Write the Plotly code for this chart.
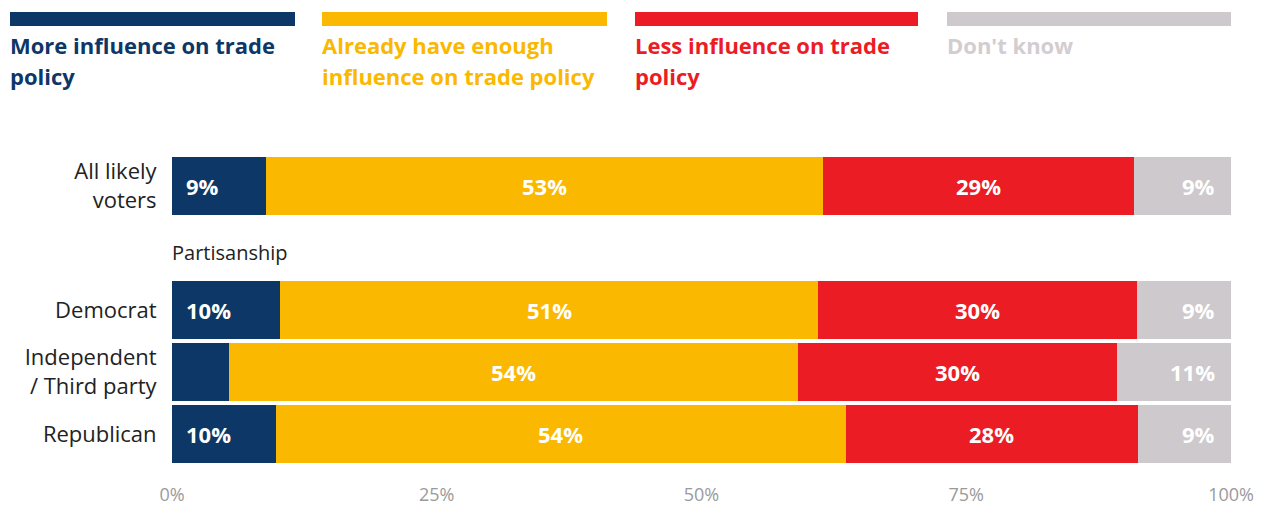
import plotly.graph_objects as go

# Survey rows (top to bottom) and their plotted row positions
groups = ["All likely<br>voters", "Democrat", "Independent<br>/ Third party", "Republican"]
rows = [0, 2, 3, 4]

# Shares (percent) for each response
more_influence = [8.9, 10.2, 5.4, 9.8]
enough_influence = [52.6, 50.8, 53.7, 53.8]
less_influence = [29.3, 30.1, 30.1, 27.6]
dont_know = [9.2, 8.9, 10.8, 8.8]

# Legend captions, one list of lines per response
series_names = [
    ["More influence on trade", "policy"],
    ["Already have enough", "influence on trade policy"],
    ["Less influence on trade", "policy"],
    ["Don't know"],
]
series_values = [more_influence, enough_influence, less_influence, dont_know]
colors = ["#0D3766", "#FBB800", "#EC1C24", "#CEC9CC"]
legend_text_colors = ["#0D3766", "#FBB800", "#EC1C24", "#D2CDD0"]

x_ticks = [0, 25, 50, 75, 100]
x_tick_labels = ["0%", "25%", "50%", "75%", "100%"]

FONT = "Open Sans"

fig = go.Figure()
for name, vals, col in zip(series_names, series_values, colors):
    fig.add_trace(go.Bar(
        y=rows, x=vals, orientation="h", name=" ".join(name),
        marker=dict(color=col, line=dict(width=0)),
        width=0.92, showlegend=False, hoverinfo="skip",
    ))

# Value labels placed from the cumulative stacked values
annotations = []
for i, r in enumerate(rows):
    start = 0.0
    for s, vals in enumerate(series_values):
        v = vals[i]
        label = f"{v:.0f}%"
        if v >= 7:
            if s == 0:
                ax, anchor, shift = start, "left", 12
            elif s == len(series_values) - 1:
                ax, anchor, shift = start + v, "right", -14
            else:
                ax, anchor, shift = start + v / 2, "center", 0
            annotations.append(dict(
                x=ax, y=r, xref="x", yref="y", text=f"<b>{label}</b>",
                showarrow=False, xanchor=anchor, xshift=shift,
                font=dict(family=FONT, size=22, color="white"),
            ))
        start += v

# Section heading between the overall row and the party rows
annotations.append(dict(
    x=0, y=1, xref="x", yref="y", text="Partisanship", showarrow=False,
    xanchor="left", yanchor="middle", xshift=-2, yshift=-4,
    font=dict(family=FONT, size=20, color="#222222"),
))

# Legend: coloured strip with bold caption lines beneath
PL, PR, PT, PB = 172, 1231, 155, 465
def px_x(p):
    return (p - PL) / (PR - PL)
def px_y(p):
    return (PB - p) / (PB - PT)

legend_x = [(10, 295), (322, 607), (635, 918), (947, 1231)]
line_centres = [45, 76]
shapes = []
for (x0, x1), lines, col, tcol in zip(legend_x, series_names, colors, legend_text_colors):
    shapes.append(dict(
        type="rect", xref="paper", yref="paper",
        x0=px_x(x0), x1=px_x(x1), y0=px_y(26), y1=px_y(12),
        fillcolor=col, line=dict(width=0), layer="above",
    ))
    for line, yc in zip(lines, line_centres):
        annotations.append(dict(
            x=px_x(x0), y=px_y(yc), xref="paper", yref="paper",
            text=f"<b>{line}</b>", showarrow=False, xanchor="left", yanchor="middle",
            align="left", xshift=-2, font=dict(family=FONT, size=22, color=tcol),
        ))

fig.update_layout(
    barmode="stack",
    width=1267, height=506,
    margin=dict(l=PL, r=1267 - PR, t=PT, b=506 - PB, autoexpand=False),
    plot_bgcolor="white", paper_bgcolor="white",
    bargap=0,
    xaxis=dict(
        range=[0, 100], tickvals=x_ticks, ticktext=x_tick_labels,
        showgrid=False, zeroline=False, showline=False, automargin=False,
        ticks="outside", ticklen=13, tickcolor="rgba(0,0,0,0)",
        tickfont=dict(family=FONT, size=18, color="#9A9A9A"),
    ),
    yaxis=dict(
        range=[4.5, -0.5], tickvals=rows, ticktext=groups,
        showgrid=False, zeroline=False, showline=False, automargin=False,
        ticks="outside", ticklen=10, tickcolor="rgba(0,0,0,0)",
        tickfont=dict(family=FONT, size=22, color="#222222"),
    ),
    shapes=shapes,
    annotations=annotations,
)

fig.write_html("out.html")
